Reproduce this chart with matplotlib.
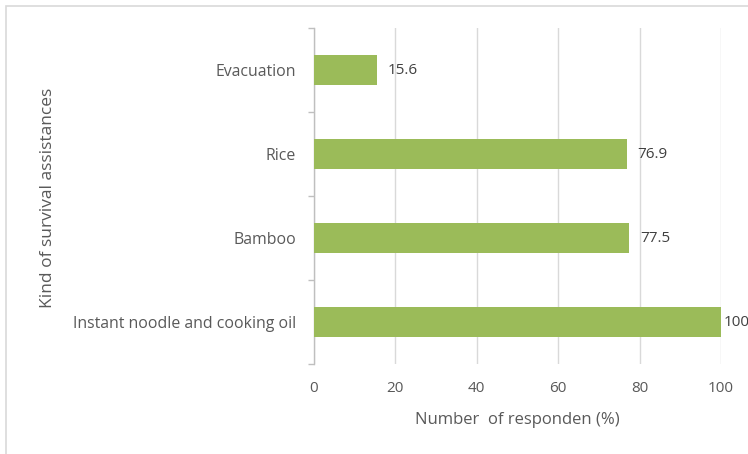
import matplotlib.pyplot as plt
from matplotlib.patches import Rectangle

categories = ["Instant noodle and cooking oil", "Bamboo", "Rice", "Evacuation"]
values = [100, 77.5, 76.9, 15.6]
value_labels = ["100", "77.5", "76.9", "15.6"]
xticks = [0, 20, 40, 60, 80, 100]

plt.rcParams['font.family'] = ['Open Sans', 'DejaVu Sans']
text_col = '#595959'

W, H = 748, 454
fig = plt.figure(figsize=(W / 100, H / 100), dpi=100)

# outer chart-area border (light gray)
fig.patches.append(Rectangle((6 / W, -0.1), 1.2, 1 - 6 / H + 0.1, transform=fig.transFigure,
                             fill=False, edgecolor='#d9d9d9', linewidth=1.2))

ax = fig.add_axes([314 / W, 1 - 364 / H, (721 - 314) / W, (364 - 28) / H])

pos = range(len(categories))
ax.barh(pos, values, height=0.36, color='#9bbb59', zorder=3)
for p, v, lab in zip(pos, values, value_labels):
    # labels sit right of the bar end, pulled in when near the plot edge
    ax.text(min(v + 2.6, 100.6), p, lab, va='center', ha='left', fontsize=11,
            color='#404040', clip_on=False)

ax.set_xlim(0, 100)
ax.set_ylim(-0.5, len(categories) - 0.5)
ax.set_xticks(xticks)
ax.set_xticklabels([str(t) for t in xticks], fontsize=11, color=text_col)
ax.tick_params(axis='x', length=0, pad=12)
ax.xaxis.grid(True, color='#d9d9d9', linewidth=1.0, zorder=0)

ax.set_yticks([p - 0.5 for p in pos] + [len(categories) - 0.5])
ax.set_yticklabels([])
ax.set_yticks(list(pos), minor=True)
ax.set_yticklabels(categories, minor=True, fontsize=11.4, color=text_col)
ax.tick_params(axis='y', which='major', length=4, color='#bfbfbf', width=1.0)
ax.tick_params(axis='y', which='minor', length=0, pad=13)

for s in ['top', 'right', 'bottom']:
    ax.spines[s].set_visible(False)
ax.spines['left'].set_color('#bfbfbf')
ax.spines['left'].set_linewidth(1.0)

fig.text(517 / W, 1 - 420 / H, "Number  of responden (%)", ha='center', va='center',
         fontsize=12, color=text_col)
fig.text(48 / W, 1 - 198 / H, "Kind of survival assistances", rotation=90, ha='center',
         va='center', fontsize=12.5, color=text_col)

fig.savefig("out.png", dpi=100)
